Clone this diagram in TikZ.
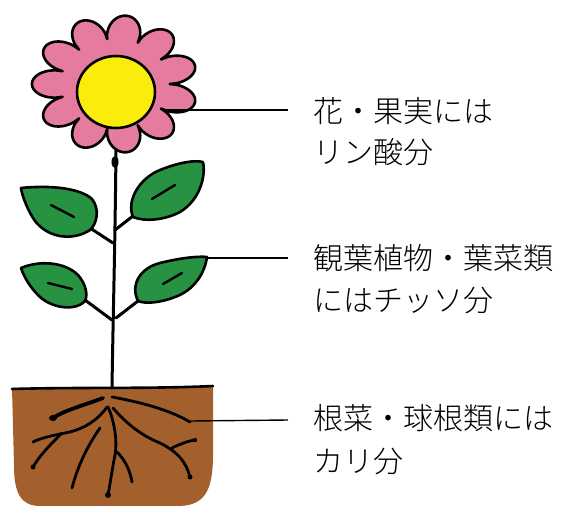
\documentclass[tikz,border=0pt]{standalone}
\usepackage{fontspec}
\IfFontExistsTF{Noto Sans CJK JP Light}
  {\newfontfamily\jp{Noto Sans CJK JP Light}}
  {\newfontfamily\jp{Noto Sans CJK JP}}
\definecolor{petal}{RGB}{229,124,160}
\definecolor{heart}{RGB}{250,236,12}
\definecolor{leafc}{RGB}{38,146,66}
\definecolor{soil}{RGB}{163,96,44}
\tikzset{
  outline/.style={draw=black, line width=2.6pt, line join=round},
  stalk/.style={draw=black, line width=3pt, line cap=round, line join=round},
  vein/.style={draw=black, line width=2.4pt, line cap=round},
  root/.style={draw=black, line width=2.8pt, line cap=round, line join=round},
  leader/.style={draw=black, line width=1.4pt},
  label/.style={font=\jp\fontsize{30}{42}\selectfont, anchor=base west, inner sep=0pt}
}
\begin{document}
\begin{tikzpicture}[x=1pt, y=-1pt]
\useasboundingbox (0,0) rectangle (566,506);

% soil
\fill[soil] (12,388) -- (213,387) -- (213,455)
  .. controls (213,490) and (205,505) .. (180,506) -- (40,506)
  .. controls (20,506) and (14,492) .. (14,465) -- cycle;
\draw[outline, line cap=round] (12,389) .. controls (80,387) and (150,389) .. (213,386);

% roots
\draw[root, line width=3.8pt] (103,398) .. controls (85,405) and (65,410) .. (53,418);
\draw[root] (112,397) .. controls (140,402) and (170,410) .. (190,422);
\draw[root] (107,407) .. controls (98,420) and (85,428) .. (70,432) .. controls (55,435) and (40,438) .. (33,442);
\draw[root] (62,433) .. controls (50,445) and (40,455) .. (33,467);
\draw[root] (100,428) .. controls (88,445) and (78,465) .. (72,488);
\draw[root] (108,407) .. controls (116,425) and (117,445) .. (115,455) .. controls (112,470) and (110,485) .. (108,495);
\draw[root] (117,452) .. controls (125,460) and (130,470) .. (132,482);
\draw[root] (113,408) .. controls (125,422) and (140,435) .. (160,443) .. controls (178,452) and (186,462) .. (190,477);
\draw[root] (172,448) .. controls (180,444) and (188,441) .. (195,440);
\fill (53,418) ellipse [x radius=4, y radius=3];
\fill (108,495) circle [radius=3];
\fill (190,477) circle [radius=2.5];
\fill (33,467) circle [radius=2.5];
\fill (195,440) circle [radius=2.2];

% stem and leaf stalks
\draw[stalk] (116,150) .. controls (115,250) and (113,320) .. (112,388);
\fill (115,162) ellipse [x radius=3.5, y radius=6];
\draw[stalk] (90,228) -- (113,243);
\draw[stalk] (133,216) -- (115,230);
\draw[stalk] (85,300) -- (112,320);
\draw[stalk] (138,301) -- (116,318);

% leaves
\draw[outline, fill=leafc] (21,188) .. controls (50,185) and (80,188) .. (92,199)
  .. controls (100,209) and (97,224) .. (90,230)
  .. controls (75,240) and (50,240) .. (35,221)
  .. controls (28,211) and (22,196) .. cycle;
\draw[vein] (51,205) -- (74,217);

\draw[outline, fill=leafc] (133,217) .. controls (126,200) and (140,178) .. (160,170)
  .. controls (180,162) and (195,160) .. (203,162)
  .. controls (206,176) and (200,200) .. (180,212)
  .. controls (165,220) and (145,222) .. cycle;
\draw[vein] (152,199) -- (175,185);

\draw[outline, fill=leafc] (21,268) .. controls (40,260) and (65,262) .. (78,275)
  .. controls (86,284) and (88,295) .. (85,301)
  .. controls (75,312) and (50,308) .. (38,295)
  .. controls (30,287) and (24,277) .. cycle;
\draw[vein] (48,283) -- (72,289);

\draw[outline, fill=leafc] (138,301) .. controls (130,285) and (140,268) .. (160,263)
  .. controls (180,258) and (198,256) .. (207,257)
  .. controls (205,272) and (195,290) .. (175,297)
  .. controls (160,303) and (145,304) .. cycle;
\draw[vein] (163,284) -- (182,273);

% flower head: eleven rounded petals around a yellow heart
\draw[outline, fill=petal] plot[samples=441, domain=0:360, variable=\t]
  ({115+(54+29*pow(abs(sin(5.5*\t))+0.001,0.55))*cos(\t)},
   {84+0.83*(54+29*pow(abs(sin(5.5*\t))+0.001,0.55))*sin(\t)}) -- cycle;
\draw[outline, fill=heart] (116,92) ellipse [x radius=39, y radius=36];

% leader lines
\coordinate (fl) at (162,110);
\coordinate (fe) at (288,110);
\coordinate (lf) at (207,258);
\coordinate (le) at (288,258);
\coordinate (rt) at (191,421);
\coordinate (re) at (288,420);
\draw[leader] (fl) -- (fe);
\draw[leader] (lf) -- (le);
\draw[leader] (rt) -- (re);

% labels
\node[label] (flowerA) at (313,122) {花・果実には};
\node[label] (flowerB) at (313,163) {リン酸分};
\node[label] (leafA) at (313,269) {観葉植物・葉菜類};
\node[label] (leafB) at (313,311) {にはチッソ分};
\node[label] (rootA) at (313,429) {根菜・球根類には};
\node[label] (rootB) at (313,472) {カリ分};
\end{tikzpicture}
\end{document}
